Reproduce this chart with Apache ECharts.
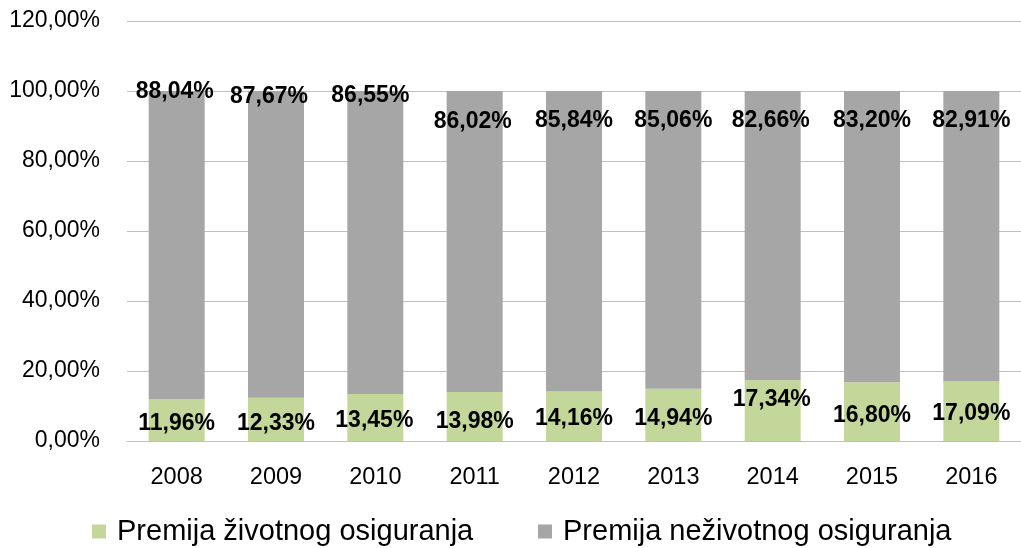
<!DOCTYPE html>
<html>
<head>
<meta charset="utf-8">
<script src="https://cdn.jsdelivr.net/npm/echarts@6/dist/echarts.min.js"></script>
<style>
html,body{margin:0;padding:0;background:#fff;}
#chart{width:1021px;height:548px;}
</style>
</head>
<body>
<div id="chart"></div>
<script>
// ---- data ----
const years = ['2008','2009','2010','2011','2012','2013','2014','2015','2016'];
const lifeShare = [11.96, 12.33, 13.45, 13.98, 14.16, 14.94, 17.34, 16.80, 17.09];
const nonLifeShare = [88.04, 87.67, 86.55, 86.02, 85.84, 85.06, 82.66, 83.20, 82.91];
const yTickLabels = ['0,00%','20,00%','40,00%','60,00%','80,00%','100,00%','120,00%'];
const seriesNames = ['Premija životnog osiguranja', 'Premija neživotnog osiguranja'];

// ---- layout (label placement, px) ----
const lifeLabelShift = [[0,-17],[0,-17],[-1,-20],[0,-19],[0,-22],[0,-22],[-1,-41],[0,-25],[0,-27]];
const nonLifeLabelShift = [[-2,1],[-7,6],[-5,5],[-2,31],[0,30],[0,30],[-2,30],[0,30],[0,30]];

const FONT = '"Liberation Sans", Arial, sans-serif';
const fmt = v => v.toFixed(2).replace('.', ',') + '%';
const labelBase = {show:true, color:'#000', fontFamily:FONT, fontWeight:'bold', fontSize:23,
  align:'center', verticalAlign:'middle', formatter: p => fmt(p.value)};

const lifeData = lifeShare.map((v,i) => ({value:v, label:{...labelBase, position:['50%','100%'], offset:lifeLabelShift[i]}}));
const nonLifeData = nonLifeShare.map((v,i) => ({value:v, label:{...labelBase, position:['50%',0], offset:nonLifeLabelShift[i]}}));

const legendText = {fontFamily:FONT, fontSize:29, color:'#000', padding:[0,0,0,6]};

const chart = echarts.init(document.getElementById('chart'), null, {renderer:'canvas'});
chart.setOption({
  animation:false,
  backgroundColor:'#fff',
  grid:{left:127, right:-3, top:21, bottom:107, containLabel:false},
  legend:[
    {data:[seriesNames[0]], left:92, top:517, padding:0, itemWidth:14, itemHeight:14, icon:'rect', textStyle:legendText},
    {data:[seriesNames[1]], left:538, top:517, padding:0, itemWidth:14, itemHeight:14, icon:'rect', textStyle:legendText}
  ],
  xAxis:{
    type:'category', data:years,
    axisTick:{show:false},
    axisLine:{lineStyle:{color:'#BFBFBF', width:1}},
    axisLabel:{color:'#000', fontFamily:FONT, fontSize:23.5, margin:25}
  },
  yAxis:{
    type:'value', min:0, max:120, interval:20,
    axisLine:{show:false}, axisTick:{show:false},
    splitLine:{lineStyle:{color:'#BFBFBF', width:1}},
    axisLabel:{color:'#000', fontFamily:FONT, fontSize:23, margin:27,
      formatter: v => yTickLabels[Math.round(v/20)]}
  },
  series:[
    {name:seriesNames[0], type:'bar', stack:'total', barWidth:56, data:lifeData,
     itemStyle:{color:'#C4D79B'}},
    {name:seriesNames[1], type:'bar', stack:'total', barWidth:56, data:nonLifeData,
     itemStyle:{color:'#A6A6A6'}}
  ]
});
</script>
</body>
</html>
